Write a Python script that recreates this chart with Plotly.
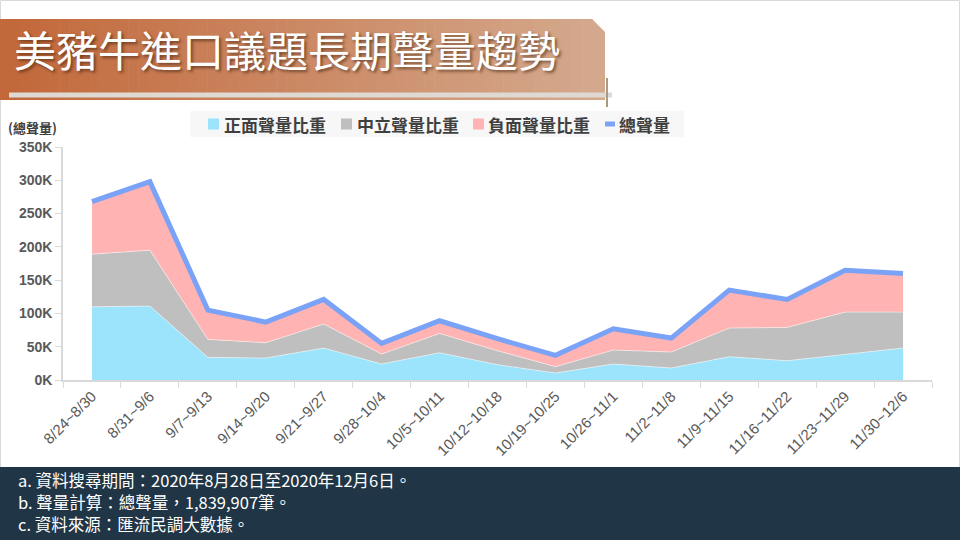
import plotly.graph_objects as go

categories = ["8/24~8/30", "8/31~9/6", "9/7~9/13", "9/14~9/20", "9/21~9/27", "9/28~10/4",
              "10/5~10/11", "10/12~10/18", "10/19~10/25", "10/26~11/1", "11/2~11/8",
              "11/9~11/15", "11/16~11/22", "11/23~11/29", "11/30~12/6"]
# values in thousands (K)
positive = [110, 111, 34, 33, 48, 24, 41, 23, 10.5, 24, 18, 35, 29, 38, 48]
neutral = [79, 84, 27, 23, 36, 15, 29, 21, 9.5, 21, 24, 43, 50, 64, 54]
negative = [79, 103, 44, 31, 37, 16, 19, 18, 17, 32, 21, 57, 42, 63, 58]
total = [268, 298, 105, 87, 121, 55, 89, 62, 37, 77, 63, 135, 121, 165, 160]
y_ticks = [0, 50, 100, 150, 200, 250, 300, 350]
y_tick_labels = ["0K", "50K", "100K", "150K", "200K", "250K", "300K", "350K"]

series_names = ["正面聲量比重", "中立聲量比重", "負面聲量比重", "總聲量"]
series_colors = ["#9BE4FC", "#BFBFBF", "#FFB3B3", "#7AA2F7"]

title_text = "美豬牛進口議題長期聲量趨勢"
y_title = "(總聲量)"
notes = ["a. 資料搜尋期間：2020年8月28日至2020年12月6日。",
         "b. 聲量計算：總聲量，1,839,907筆。",
         "c. 資料來源：匯流民調大數據。"]

W, H = 960, 540
L, R, T, B = 63, 28, 147, 160
PW, PH = W - L - R, H - T - B


def px(x):
    return (x - L) / PW


def py(y):
    return (H - B - y) / PH


CJK = "Noto Sans CJK TC, Noto Sans CJK SC, sans-serif"

fig = go.Figure()
for vals, name, col in zip([positive, neutral, negative], series_names[:3], series_colors[:3]):
    fig.add_trace(go.Scatter(x=categories, y=vals, name=name, stackgroup="one",
                             mode="lines", line=dict(width=0.6, color="rgba(255,255,255,0.8)"),
                             fillcolor=col, showlegend=False))
fig.add_trace(go.Scatter(x=categories, y=total, name=series_names[3], mode="lines",
                         line=dict(width=5, color=series_colors[3]), showlegend=False))

shapes = []
# outer border
shapes.append(dict(type="rect", xref="paper", yref="paper", x0=px(0.5), x1=px(959.5),
                   y0=py(0.5), y1=py(539.5), line=dict(color="#D9D9D9", width=1), layer="below"))
# banner gradient strips
c0 = (194, 104, 58)
c1 = (212, 168, 140)
n = 60
bx0, bx1, btop, bbot, cham = 0, 605, 19, 100, 13
for i in range(n):
    xa = bx0 + (bx1 - cham - bx0) * i / n
    xb = bx0 + (bx1 - cham - bx0) * (i + 1) / n + 0.6
    t = i / (n - 1)
    col = "rgb(%d,%d,%d)" % tuple(round(c0[k] + (c1[k] - c0[k]) * t) for k in range(3))
    shapes.append(dict(type="rect", xref="paper", yref="paper", x0=px(xa), x1=px(xb),
                       y0=py(bbot), y1=py(btop), line=dict(width=0), fillcolor=col))
cc = "rgb(%d,%d,%d)" % c1
xs = bx1 - cham
path = "M %f,%f L %f,%f L %f,%f L %f,%f Z" % (
    px(xs), py(btop), px(xs + cham), py(btop + cham), px(xs + cham), py(bbot), px(xs), py(bbot))
shapes.append(dict(type="path", xref="paper", yref="paper", path=path,
                   fillcolor=cc, line=dict(width=0)))
# light strip under title
shapes.append(dict(type="rect", xref="paper", yref="paper", x0=px(9), x1=px(612),
                   y0=py(97.5), y1=py(92.5), line=dict(width=0), fillcolor="#DEDAD3"))
# vertical tan line
shapes.append(dict(type="line", xref="paper", yref="paper", x0=px(607), x1=px(607),
                   y0=py(78), y1=py(107), line=dict(color="#A99A80", width=2)))
# footer
shapes.append(dict(type="rect", xref="paper", yref="paper", x0=px(0), x1=px(960),
                   y0=py(540), y1=py(467), line=dict(width=0), fillcolor="#203546"))

# legend (drawn)
shapes.append(dict(type="rect", xref="paper", yref="paper", x0=px(190), x1=px(684),
                   y0=py(137), y1=py(111), line=dict(width=0), fillcolor="#F7F7F7"))
leg_sym_x = [208, 341, 473]
leg_text_x = [222, 355, 486, 617]
for xx, col in zip(leg_sym_x, series_colors[:3]):
    shapes.append(dict(type="rect", xref="paper", yref="paper", x0=px(xx), x1=px(xx + 11),
                       y0=py(129.5), y1=py(118.5), line=dict(width=0), fillcolor=col))
shapes.append(dict(type="line", xref="paper", yref="paper", x0=px(605), x1=px(615),
                   y0=py(124), y1=py(124), line=dict(width=5, color=series_colors[3])))

annotations = []
for xx, name in zip(leg_text_x, series_names):
    annotations.append(dict(text=name, xref="paper", yref="paper", x=px(xx), y=py(124),
                            xanchor="left", yanchor="middle", showarrow=False,
                            font=dict(family=CJK, size=17, color="#404040", weight="bold")))
annotations.append(dict(text=title_text, xref="paper", yref="paper", x=px(12), y=py(49),
                        xanchor="left", yanchor="middle", showarrow=False,
                        font=dict(family=CJK, size=42, color="white",
                                  shadow="2px 2px 3px rgba(60,30,10,0.6)")))
annotations.append(dict(text=y_title, xref="paper", yref="paper", x=px(6), y=py(127),
                        xanchor="left", yanchor="middle", showarrow=False,
                        font=dict(family=CJK, size=13, color="#404040", weight="bold")))
for i, t in enumerate(notes):
    annotations.append(dict(text=t, xref="paper", yref="paper", x=px(16), y=py(480 + 22 * i),
                            xanchor="left", yanchor="middle", showarrow=False,
                            font=dict(family=CJK, size=16.5, color="white")))

fig.update_layout(
    width=W, height=H,
    margin=dict(l=L, r=R, t=T, b=B),
    paper_bgcolor="white", plot_bgcolor="white",
    showlegend=False,
    shapes=shapes,
    annotations=annotations,
    xaxis=dict(type="category", range=[-0.5, len(categories) - 0.5], showgrid=False,
               showline=True, linecolor="#D9D9D9", linewidth=1.5,
               ticks="outside", ticklen=6, tickcolor="#D9D9D9", tickson="boundaries",
               tickangle=-45, tickfont=dict(family="Liberation Sans, Arial", size=15, color="#595959"),
               zeroline=False),
    yaxis=dict(range=[0, 350], tickmode="array", tickvals=y_ticks, ticktext=y_tick_labels,
               showgrid=False, showline=True, linecolor="#D9D9D9", linewidth=1.5,
               ticks="outside", ticklen=6, tickcolor="#D9D9D9", zeroline=False,
               tickfont=dict(family="Liberation Sans, Arial", size=14, color="#595959", weight="bold")),
)

fig.write_html("out.html", config={"displayModeBar": False},
               post_script="document.body.style.margin='0';")
